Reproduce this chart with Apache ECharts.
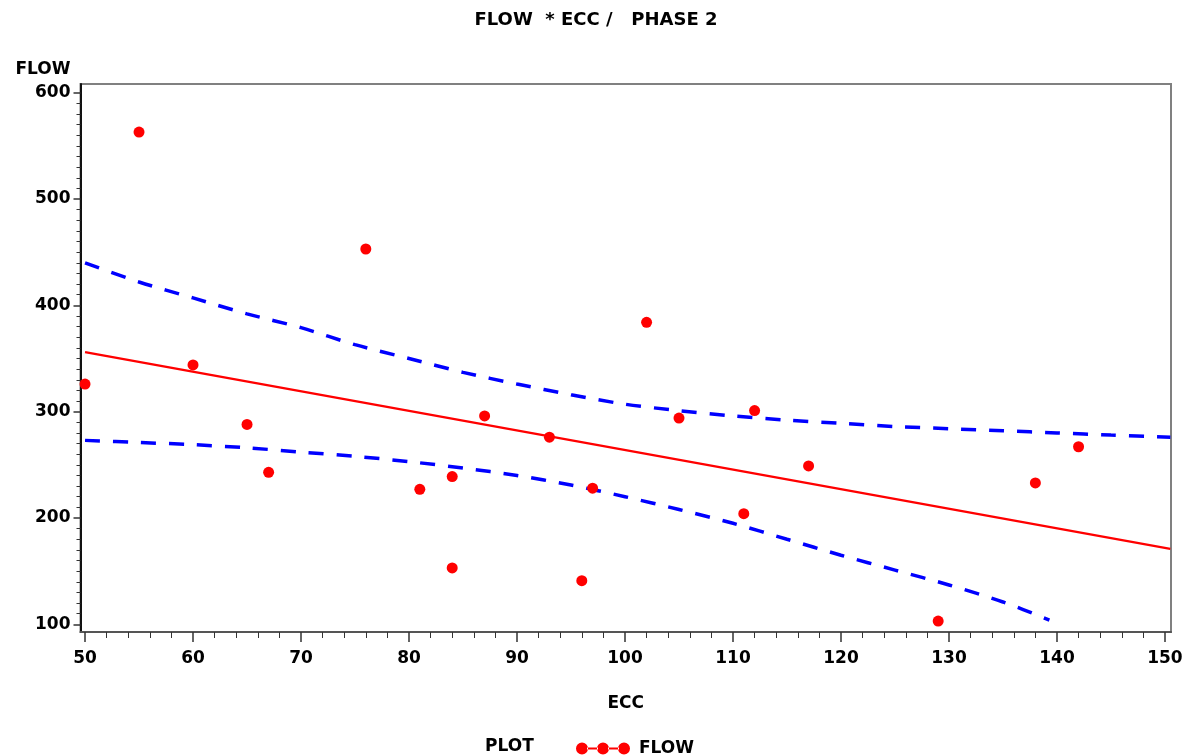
<!DOCTYPE html>
<html>
<head>
<meta charset="utf-8">
<script src="https://cdn.jsdelivr.net/npm/echarts@6/dist/echarts.min.js"></script>
<style>
html,body{margin:0;padding:0;background:#fff;}
#chart{width:1192px;height:755px;}
</style>
</head>
<body>
<div id="chart"></div>
<script>
// Observed data: ECC vs FLOW
var ecc  = [50, 55, 60, 65, 67, 76, 81, 84, 84, 87, 93, 96, 97, 102, 105, 111, 112, 117, 129, 138, 142];
var flow = [326, 563, 344, 288, 243, 453, 227, 239, 153, 296, 276, 141, 228, 384, 294, 204, 301, 249, 103, 233, 267];

// Regression line
var fitX = [50, 150.5];
var fitY = [356, 171];

// Upper dashed band
var upperX = [50, 55, 60, 65, 70, 75, 80, 85, 90, 95, 100, 105, 110, 115, 120, 125, 130, 135, 140, 145, 150.5];
var upperY = [440, 422, 407, 392, 379, 363, 350, 337, 326, 316, 307, 301, 296, 292, 289, 286, 284, 282, 280, 278, 276];

// Lower dashed band
var lowerX = [50, 55, 60, 65, 70, 75, 80, 85, 90, 95, 100, 105, 110, 115, 120, 125, 130, 135, 139.3];
var lowerY = [273, 271, 269, 266, 262, 258, 253, 247, 240, 231, 220, 208, 195, 180, 165, 151, 137, 121, 104];

// Tick values
var xMajor = [50, 60, 70, 80, 90, 100, 110, 120, 130, 140, 150];
var xMinor = [52, 54, 56, 58, 62, 64, 66, 68, 72, 74, 76, 78, 82, 84, 86, 88, 92, 94, 96, 98,
              102, 104, 106, 108, 112, 114, 116, 118, 122, 124, 126, 128, 132, 134, 136, 138, 142, 144, 146, 148];
var yMajor = [100, 200, 300, 400, 500, 600];
var yMinor = [110, 120, 130, 140, 150, 160, 170, 180, 190, 210, 220, 230, 240, 250, 260, 270, 280, 290,
              310, 320, 330, 340, 350, 360, 370, 380, 390, 410, 420, 430, 440, 450, 460, 470, 480, 490,
              510, 520, 530, 540, 550, 560, 570, 580, 590];

function zip(a, b) { return a.map(function (v, i) { return [v, b[i]]; }); }

var FONT = 'DejaVu Sans';
var legendIcon = 'path://M0,6A6,6 0 1,0 12,6A6,6 0 1,0 0,6Z' +
  'M21,6A6,6 0 1,0 33,6A6,6 0 1,0 21,6Z' +
  'M42,6A6,6 0 1,0 54,6A6,6 0 1,0 42,6Z' +
  'M11,5.1L22,5.1L22,6.9L11,6.9Z' +
  'M32,5.1L43,5.1L43,6.9L32,6.9Z';

var XMIN = 49.58, XMAX = 150.56, YMIN = 92.76, YMAX = 608.2;
var tickColor = '#333';

var chart = echarts.init(document.getElementById('chart'), null, { renderer: 'canvas' });
chart.setOption({
  animation: false,
  backgroundColor: '#fff',
  title: [
    { text: 'FLOW  * ECC /   PHASE 2', left: 'center', top: 6,
      textStyle: { fontFamily: FONT, fontWeight: 'bold', fontSize: 18, color: '#000' } },
    { text: 'PLOT', left: 480, top: 733,
      textStyle: { fontFamily: FONT, fontWeight: 'bold', fontSize: 17, color: '#000' } }
  ],
  legend: {
    data: [{ name: 'FLOW', icon: legendIcon }],
    left: 571, top: 735,
    itemWidth: 54, itemHeight: 12,
    textStyle: { fontFamily: FONT, fontWeight: 'bold', fontSize: 17, color: '#000', padding: [0, 0, 0, 4] }
  },
  grid: {
    left: 80.5, right: 21, top: 84, bottom: 123,
    show: true, borderColor: '#808080', borderWidth: 2, backgroundColor: 'transparent'
  },
  xAxis: [
    {
      type: 'value', min: XMIN, max: XMAX, position: 'bottom',
      axisLine: { show: true, lineStyle: { color: '#555', width: 2 } },
      axisTick: { show: true, customValues: xMajor, length: 10, lineStyle: { color: tickColor, width: 1.5 } },
      axisLabel: { customValues: xMajor, margin: 18, fontFamily: FONT, fontWeight: 'bold', fontSize: 17, color: '#000' },
      splitLine: { show: false },
      name: 'ECC', nameLocation: 'middle', nameGap: 63,
      nameTextStyle: { fontFamily: FONT, fontWeight: 'bold', fontSize: 17, color: '#000' }
    },
    {
      type: 'value', min: XMIN, max: XMAX, position: 'bottom', gridIndex: 0,
      axisLine: { show: false },
      axisTick: { show: true, customValues: xMinor, length: 6, lineStyle: { color: tickColor, width: 1 } },
      axisLabel: { show: false },
      splitLine: { show: false }
    }
  ],
  yAxis: [
    {
      type: 'value', min: YMIN, max: YMAX, position: 'left',
      axisLine: { show: true, lineStyle: { color: '#111', width: 2 } },
      axisTick: { show: true, customValues: yMajor, length: 7, lineStyle: { color: tickColor, width: 1.5 } },
      axisLabel: { customValues: yMajor, margin: 10, fontFamily: FONT, fontWeight: 'bold', fontSize: 17, color: '#000' },
      splitLine: { show: false },
      name: 'FLOW', nameLocation: 'end', nameGap: 6,
      nameTextStyle: { fontFamily: FONT, fontWeight: 'bold', fontSize: 17, color: '#000', align: 'right', padding: [0, 10, 0, 0] }
    },
    {
      type: 'value', min: YMIN, max: YMAX, position: 'left', gridIndex: 0,
      axisLine: { show: false },
      axisTick: { show: true, customValues: yMinor, length: 4, lineStyle: { color: tickColor, width: 1 } },
      axisLabel: { show: false },
      splitLine: { show: false }
    }
  ],
  series: [
    {
      name: 'fit', type: 'line', data: zip(fitX, fitY), showSymbol: false, symbol: 'none',
      lineStyle: { color: '#ff0000', width: 2.2 }, z: 2, silent: true
    },
    {
      name: 'upper', type: 'line', data: zip(upperX, upperY), showSymbol: false, symbol: 'none', smooth: 0.3,
      lineStyle: { color: '#0000ff', width: 3.5, type: [15, 13] }, z: 2, silent: true
    },
    {
      name: 'lower', type: 'line', data: zip(lowerX, lowerY), showSymbol: false, symbol: 'none', smooth: 0.3,
      lineStyle: { color: '#0000ff', width: 3.5, type: [15, 13] }, z: 2, silent: true
    },
    {
      name: 'FLOW', type: 'scatter', data: zip(ecc, flow), symbol: 'circle', symbolSize: 11,
      itemStyle: { color: '#ff0000', opacity: 1 }, z: 5
    }
  ]
});
</script>
</body>
</html>
